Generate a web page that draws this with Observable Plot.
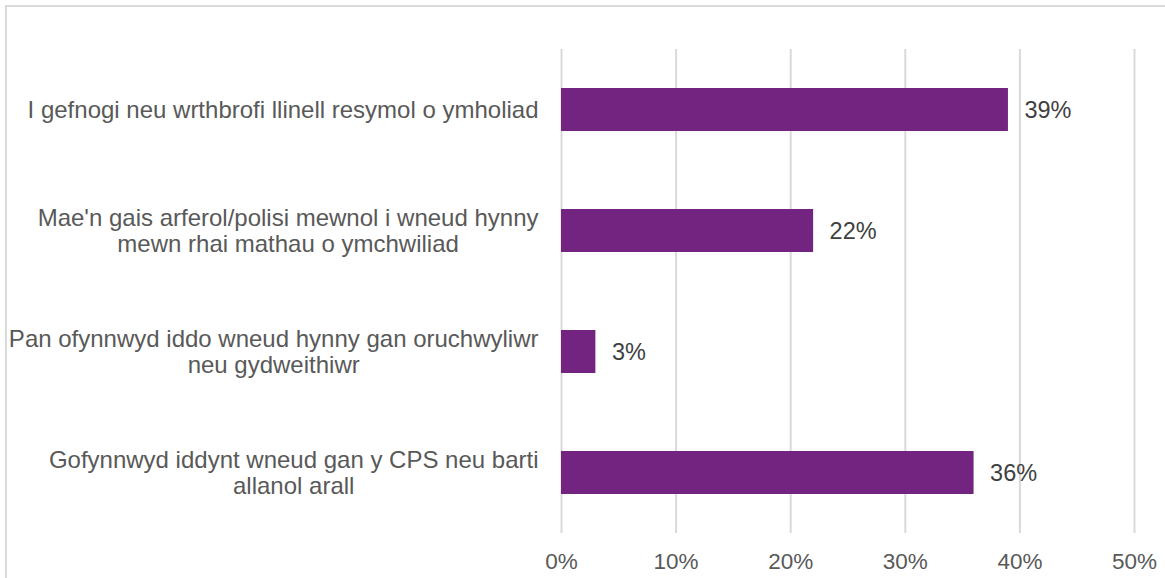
<!DOCTYPE html>
<html>
<head>
<meta charset="utf-8">
<script src="https://cdn.jsdelivr.net/npm/d3@7"></script>
<script src="https://cdn.jsdelivr.net/npm/@observablehq/plot@0.6"></script>
<style>
  html, body { margin: 0; padding: 0; background: #fff; }
  #wrap { position: relative; width: 1165px; height: 578px; overflow: hidden; }
  #border { position: absolute; left: 5px; top: 5px; width: 2000px; height: 2000px;
            border-left: 2px solid #d9d9d9; border-top: 2px solid #d9d9d9; }
  #chart { position: absolute; left: 0; top: 0; }
</style>
</head>
<body>
<div id="wrap"><div id="border"></div><div id="chart"></div></div>
<script>
const categories = [
  "I gefnogi neu wrthbrofi llinell resymol o ymholiad",
  "Mae'n gais arferol/polisi mewnol i wneud hynny\nmewn rhai mathau o ymchwiliad",
  "Pan ofynnwyd iddo wneud hynny gan oruchwyliwr\nneu gydweithiwr",
  "Gofynnwyd iddynt wneud gan y CPS neu barti\nallanol arall"
];
const values = [39, 22, 3, 36];
const xTicks = [0, 10, 20, 30, 40, 50];

const data = categories.map((c, i) => ({category: c, value: values[i]}));

const FONT = '"Liberation Sans", Arial, sans-serif';
const LABEL_SIZE = 24;
const ctx = document.createElement("canvas").getContext("2d");
ctx.font = `${LABEL_SIZE}px "Liberation Sans", Arial, sans-serif`;
function blockWidth(s) { return Math.max(...s.split("\n").map(l => ctx.measureText(l).width)); }

const labelMarks = data.map(d => Plot.text([d], {
  x: () => 0, y: "category", text: "category",
  textAnchor: "middle", lineAnchor: "middle", lineHeight: 1.08,
  dx: -(23 + blockWidth(d.category) / 2),
  fontSize: LABEL_SIZE, fill: "#595959"
}));

const chart = Plot.plot({
  width: 1165,
  height: 578,
  marginLeft: 561,
  marginRight: 31,
  marginTop: 49,
  marginBottom: 45,
  style: { fontFamily: FONT, background: "transparent", overflow: "visible" },
  x: { domain: [0, 50], ticks: xTicks, label: null },
  y: { domain: categories, paddingInner: 0.645, paddingOuter: 0.3225, axis: null },
  marks: [
    Plot.ruleX(xTicks, { stroke: "#d9d9d9", strokeWidth: 2 }),
    Plot.barX(data, { y: "category", x: "value", fill: "#732380" }),
    Plot.text(data, { y: "category", x: "value", text: d => d.value + "%",
      textAnchor: "start", dx: 16, fontSize: 23.5, fill: "#404040" }),
    Plot.axisX(xTicks, { tickSize: 0, tickPadding: 20, tickFormat: d => d + "%",
      fontSize: 22.5, color: "#595959", label: null }),
    ...labelMarks
  ]
});
document.getElementById("chart").append(chart);
</script>
</body>
</html>
